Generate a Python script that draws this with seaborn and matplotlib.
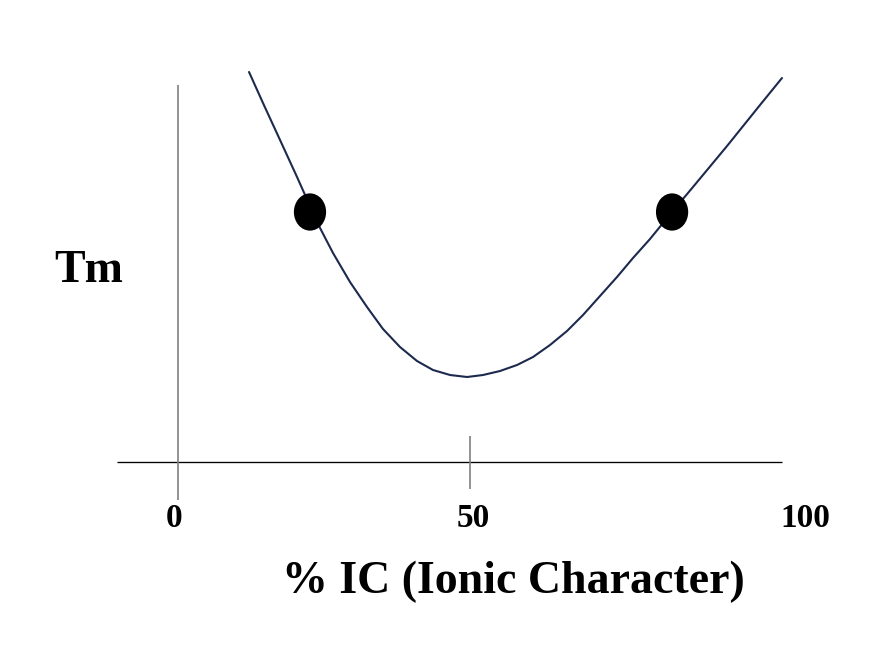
import numpy as np
import pandas as pd
import matplotlib
matplotlib.use("Agg")
import matplotlib.pyplot as plt
import seaborn as sns
from matplotlib.path import Path
from matplotlib.transforms import Affine2D

# ---- data ----
ic_percent = [12.16, 14.55, 17.47, 20.38, 22.60, 24.32, 26.54, 29.45, 32.36, 35.10,
              38.01, 40.92, 43.66, 46.58, 49.49, 52.23, 55.14, 58.05, 60.79, 63.70,
              66.61, 69.35, 72.26, 75.17, 77.91, 80.82, 84.59, 88.18, 94.01, 99.66,
              103.42]
tm_values = [97.5, 89.75, 80.5, 71.25, 64.0, 58.5, 52.25, 45.0, 38.75, 33.25,
             28.75, 25.25, 23.0, 21.75, 21.25, 21.75, 22.75, 24.25, 26.25, 29.25,
             32.75, 36.75, 41.5, 46.25, 51.0, 55.75, 62.5, 68.75, 79.0, 89.25,
             96.0]
dot_ic = [22.6, 84.6]
dot_tm = [62.5, 62.5]
tick_values = [0, 50, 100]
tick_labels = ["0", "50", "100"]
tick_label_x = [-0.6, 50.6, 107.4]
x_title = "% IC (Ionic Character)"
y_title = "Tm"

curve = pd.DataFrame({"ic": ic_percent, "tm": tm_values})
dots = pd.DataFrame({"ic": dot_ic, "tm": dot_tm})

sns.set_theme(style="white")
plt.rcParams["font.family"] = ["Liberation Serif", "DejaVu Serif"]

fig = plt.figure(figsize=(8.79, 6.60), dpi=100)
ax = fig.add_axes([0, 0, 1, 1])
ax.set_xlim(-30.48, 120.03)
ax.set_ylim(-49.5, 115.5)
ax.axis("off")

# axes lines
ax.plot([-10.45, 103.42], [0, 0], color="black", lw=0.95, solid_capstyle="butt")
ax.plot([0, 0], [-9.5, 94.25], color="#808080", lw=1.2, solid_capstyle="butt")
ax.plot([tick_values[1], tick_values[1]], [-6.75, 6.5], color="#808080", lw=1.2,
        solid_capstyle="butt")

# curve
sns.lineplot(data=curve, x="ic", y="tm", ax=ax, color="#1d2a4e", lw=1.5,
             estimator=None, sort=False, legend=False)
ax.lines[-1].set_solid_joinstyle("round")

# elliptical dots
ell = Path.unit_circle().transformed(Affine2D().scale(0.865, 1.0))
sns.scatterplot(data=dots, x="ic", y="tm", ax=ax, marker=ell, s=720,
                color="black", edgecolor="none", linewidth=0, legend=False, zorder=5)

# tick labels
for xv, lab in zip(tick_label_x, tick_labels):
    ax.text(xv, -16.25, lab, ha="center", va="baseline", fontsize=24,
            fontweight="bold", color="black")

ax.text(-15.24, 45, y_title, ha="center", va="baseline", fontsize=33,
        fontweight="bold", color="black")
ax.text(57.36, -32.75, x_title, ha="center", va="baseline", fontsize=33,
        fontweight="bold", color="black")

fig.savefig("out.png", dpi=100)
